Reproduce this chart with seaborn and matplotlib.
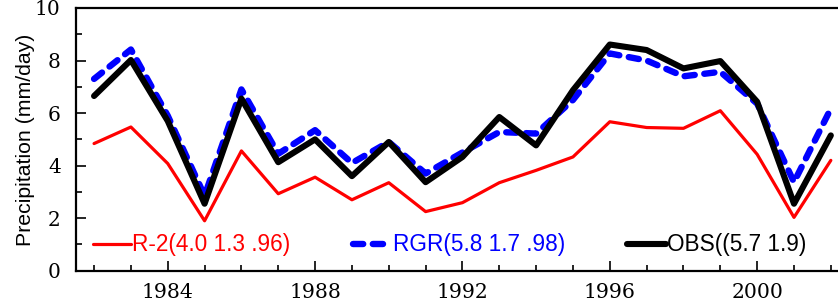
import numpy as np
import pandas as pd
import matplotlib
matplotlib.use('Agg')
import matplotlib.pyplot as plt
import seaborn as sns

years = list(range(1982, 2003))
r2 = [4.84, 5.47, 4.08, 1.90, 4.56, 2.93, 3.56, 2.70, 3.35, 2.25, 2.59,
      3.35, 3.82, 4.33, 5.67, 5.45, 5.42, 6.09, 4.43, 2.03, 4.20]
rgr = [7.30, 8.42, 5.90, 2.85, 6.90, 4.45, 5.35, 4.10, 4.90, 3.70, 4.50,
       5.28, 5.22, 6.50, 8.27, 8.00, 7.40, 7.57, 6.36, 3.37, 6.17]
obs = [6.65, 8.02, 5.70, 2.55, 6.55, 4.13, 5.00, 3.60, 4.90, 3.37, 4.33,
       5.85, 4.77, 6.87, 8.61, 8.40, 7.70, 7.98, 6.43, 2.55, 5.15]
labels = ['R-2(4.0 1.3 .96)', 'RGR(5.8 1.7 .98)', 'OBS((5.7 1.9)']

df = pd.DataFrame({'year': years, 'R2': r2, 'RGR': rgr, 'OBS': obs})

sns.set_style('ticks')
plt.rcParams['font.family'] = ['Liberation Sans', 'DejaVu Sans']
plt.rcParams['text.color'] = 'black'
plt.rcParams['axes.labelcolor'] = 'black'
plt.rcParams['xtick.color'] = 'black'
plt.rcParams['ytick.color'] = 'black'

fig = plt.figure(figsize=(8.38, 3.04), dpi=100)
ax = fig.add_axes([0.0907, 0.1095, 0.9093 + 0.002, 0.8642])

sns.lineplot(data=df, x='year', y='R2', ax=ax, color='#ff0000', lw=2.3,
             label=labels[0])
sns.lineplot(data=df, x='year', y='RGR', ax=ax, color='#0000ff', lw=4.6,
             label=labels[1], dashes=False)
ax.lines[-1].set_dashes((1.6, 1.5))
ax.lines[-1].set_dash_capstyle('round')
sns.lineplot(data=df, x='year', y='OBS', ax=ax, color='black', lw=4.4,
             label=labels[2])
ax.lines[-1].set_solid_capstyle('round')
ax.lines[0].set_solid_capstyle('round')

ax.set_xlim(1981.51, 2002.24)
ax.set_ylim(0, 10)
ax.set_xlabel('')
ax.set_ylabel('Precipitation (mm/day)', fontsize=15.3, labelpad=0)

ax.set_xticks(range(1984, 2003, 4))
ax.set_xticks(years, minor=True)
ax.set_yticks(range(0, 11, 2))
ax.set_yticks(range(1, 10, 2), minor=True)
ax.tick_params(axis='both', which='both', direction='in', width=1.2)
ax.tick_params(axis='both', which='major', length=7)
ax.tick_params(axis='both', which='minor', length=4.5)
ax.tick_params(axis='y', labelsize=14.5, pad=11)
ax.tick_params(axis='x', labelsize=14.7, pad=9)
for t in ax.get_xticklabels() + ax.get_yticklabels():
    t.set_family('DejaVu Serif')

for s in ['left', 'bottom', 'top']:
    ax.spines[s].set_linewidth(1.6)
    ax.spines[s].set_color('black')
ax.spines['right'].set_visible(False)

leg = ax.legend(loc='center left', bbox_to_anchor=(0.022, 0.098), ncol=3,
                frameon=False, fontsize=16.3, handlelength=1.7,
                handletextpad=0.05, columnspacing=2.75, borderaxespad=0,
                borderpad=0)
for txt, c in zip(leg.get_texts(), ['#ff0000', '#0000ff', 'black']):
    txt.set_color(c)

fig.savefig('out.png', dpi=100)
